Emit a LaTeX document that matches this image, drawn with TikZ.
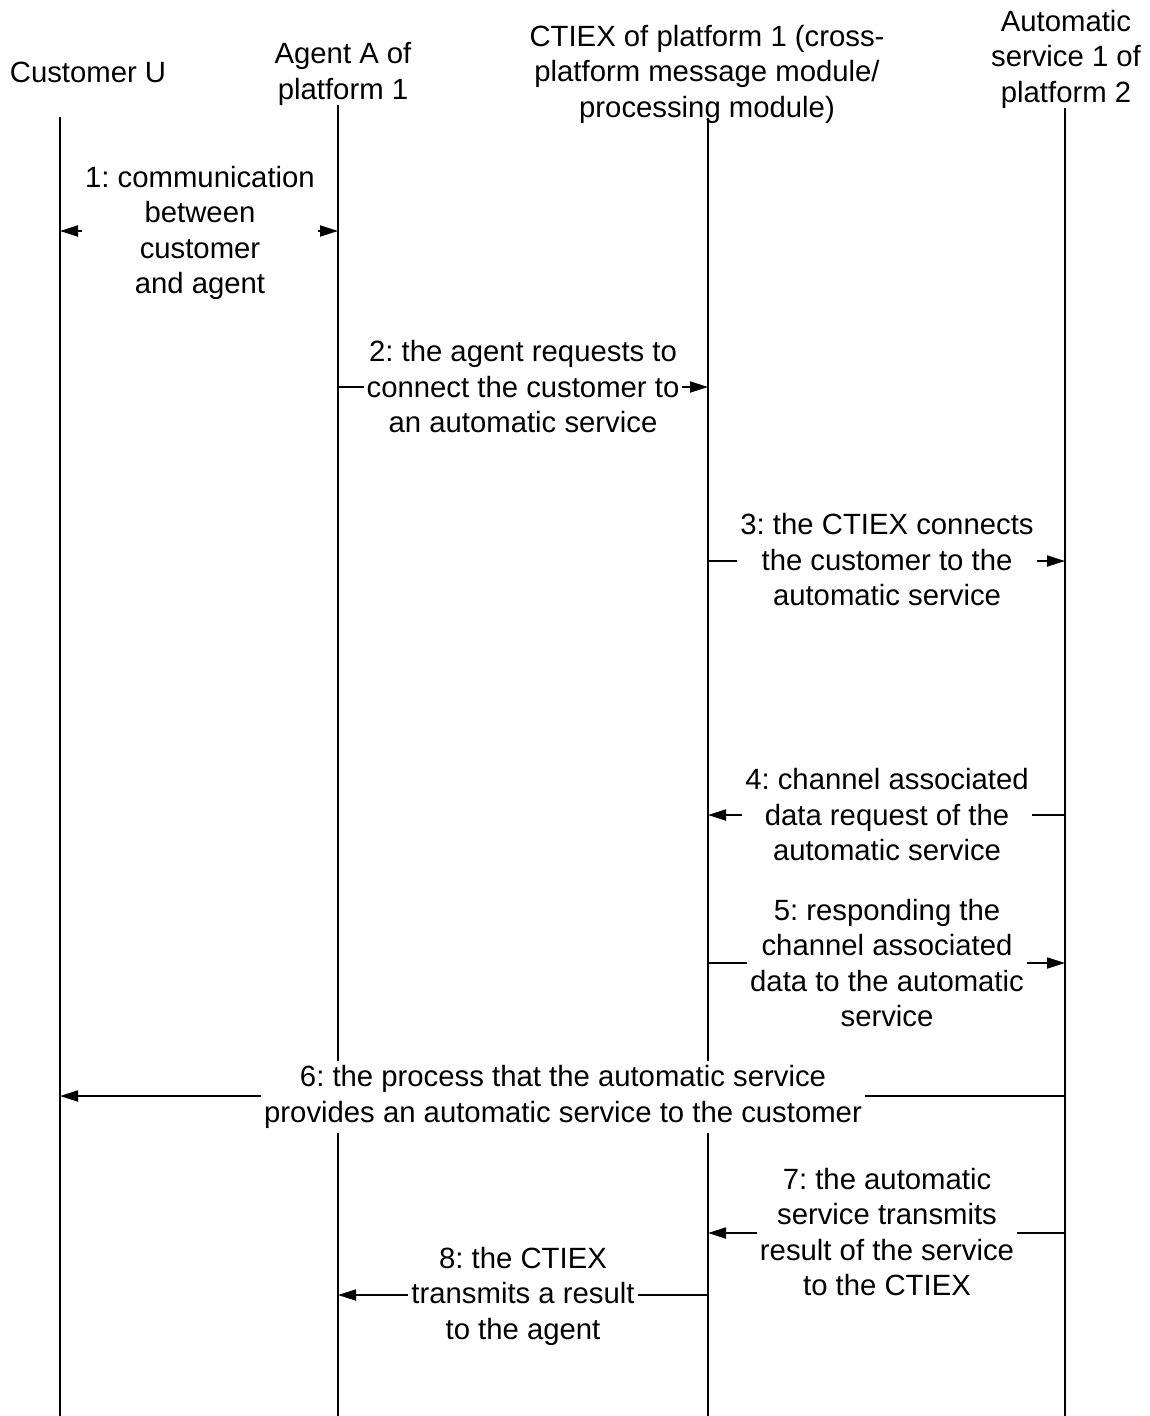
\documentclass[tikz,border=0pt]{standalone}
\usepackage{fontspec}
\setmainfont{Liberation Sans}
\usetikzlibrary{arrows.meta}
\frenchspacing
\begin{document}
\begin{tikzpicture}[x=1pt,y=-1pt,
  every node/.style={font=\fontsize{29.3}{35.5}\selectfont, align=center, inner sep=0pt},
  lifeline/.style={line width=1.8pt},
  tip/.style={},
  msg/.style={line width=1.8pt, -{Triangle[length=18pt,width=11pt]}},
  bimsg/.style={line width=1.8pt, {Triangle[length=18pt,width=11pt]}-{Triangle[length=18pt,width=11pt]}},
  lbl/.style={fill=white, inner xsep=3pt, inner ysep=5pt}]
\path[use as bounding box] (0,0) rectangle (1150,1416);

% headers
\node (hU) at (88,72) {Customer U};
\node (hA) at (343,74) {Agent A of\\platform 1};
\node (hC) at (707,74) {CTIEX of platform 1 (cross-\\platform message module/\\processing module)};
\node (hS) at (1066,59) {Automatic\\service 1 of\\platform 2};

% lifeline ends
\coordinate (uT) at (60,117);   \coordinate (uB) at (60,1416);
\coordinate (aT) at (338,105);  \coordinate (aB) at (338,1416);
\coordinate (cT) at (708,118);  \coordinate (cB) at (708,1416);
\coordinate (sT) at (1065,108); \coordinate (sB) at (1065,1416);

\draw[lifeline] (uT) -- (uB);
\draw[lifeline] (aT) -- (aB);
\draw[lifeline] (cT) -- (cB);
\draw[lifeline] (sT) -- (sB);

% message points
\coordinate (m1u) at (60,231);   \coordinate (m1a) at (338,231);
\coordinate (m2a) at (338,387);  \coordinate (m2c) at (708,387);
\coordinate (m3c) at (708,561);  \coordinate (m3s) at (1065,561);
\coordinate (m4s) at (1065,815); \coordinate (m4c) at (708,815);
\coordinate (m5c) at (708,963);  \coordinate (m5s) at (1065,963);
\coordinate (m6s) at (1065,1096);\coordinate (m6u) at (60,1096);
\coordinate (m7s) at (1065,1233);\coordinate (m7c) at (708,1233);
\coordinate (m8c) at (708,1295); \coordinate (m8a) at (338,1295);

\draw[bimsg] (m1u) -- (m1a);
\draw[msg] (m2a) -- (m2c);
\draw[msg] (m3c) -- (m3s);
\draw[msg] (m4s) -- (m4c);
\draw[msg] (m5c) -- (m5s);
\draw[msg] (m6s) -- (m6u);
\draw[msg] (m7s) -- (m7c);
\draw[msg] (m8c) -- (m8a);

% labels
\node[lbl] (l1) at (200,233) {1: communication\\between\\customer\\and agent};
\node[lbl] (l2) at (523,387) {2: the agent requests to\\connect the customer to\\an automatic service};
\node[lbl] (l3) at (887,560) {3: the CTIEX connects\\the customer to the\\automatic service};
\node[lbl] (l4) at (887,815) {4: channel associated\\data request of the\\automatic service};
\node[lbl] (l5) at (887,963) {5: responding the\\channel associated\\data to the automatic\\service};
\node[lbl] (l6) at (563,1097) {6: the process that the automatic service\\provides an automatic service to the customer};
\node[lbl] (l7) at (887,1232) {7: the automatic\\service transmits\\result of the service\\to the CTIEX};
\node[lbl] (l8) at (523,1296) {8: the CTIEX\\transmits a result\\to the agent};
\end{tikzpicture}
\end{document}
